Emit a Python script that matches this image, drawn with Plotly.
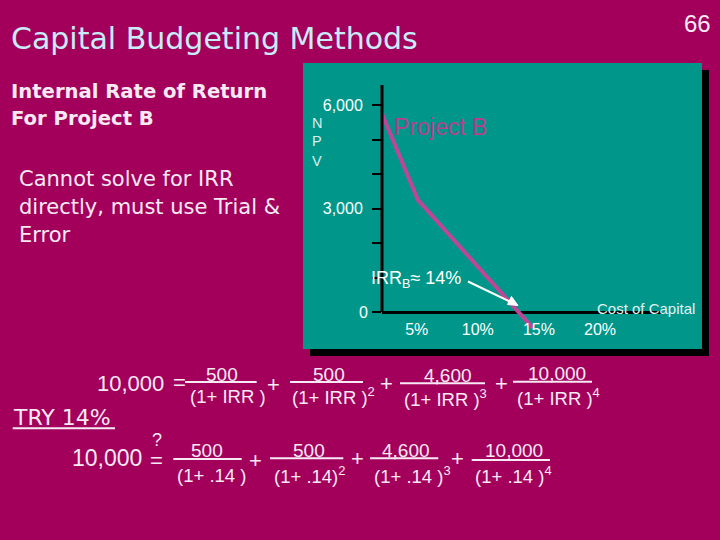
import plotly.graph_objects as go

# ---- chart data ----
rates = [2.1, 5.1, 14.5]            # cost of capital, %
npv_b = [5800, 3250, -460]          # NPV of Project B
y_tick_vals = [3000, 6000]
y_tick_text = ["3,000", "6,000"]
y_minor_step = 1000
x_tick_vals = [5, 10, 15, 20]
x_tick_text = ["5%", "10%", "15%", "20%"]

# ---- slide texts ----
title = "Capital Budgeting Methods"
page_no = "66"
heading_lines = ["Internal Rate of Return", "For Project B"]
body_lines = ["Cannot solve for IRR", "directly, must use Trial &", "Error"]
eq1_numerators = ["500", "500", "4,600", "10,000"]
eq1_denominators = ["(1+ IRR )", "(1+ IRR )<sup>2</sup>", "(1+ IRR )<sup>3</sup>", "(1+ IRR )<sup>4</sup>"]
eq2_numerators = ["500", "500", "4,600", "10,000"]
eq2_denominators = ["(1+ .14 )", "(1+ .14)<sup>2</sup>", "(1+ .14 )<sup>3</sup>", "(1+ .14 )<sup>4</sup>"]

W, H = 720, 540
BG = "#a3005c"
GREEN = "#00978a"
TXT = "#f7eaf5"
LINE = "#be4697"
SANS = "Liberation Sans, Arial, sans-serif"
WIDE = "DejaVu Sans, sans-serif"


def px(x):
    return x / W


def py(y):
    return 1 - y / H


fig = go.Figure()
fig.add_trace(go.Scatter(x=rates, y=npv_b, mode="lines",
                         line=dict(color=LINE, width=4), hoverinfo="skip",
                         showlegend=False))

# y: 0 at 312px, 34.5 px per 1000; plot area 80px..340px
y_top = (312 - 80) / 34.5 * 1000
y_bot = -(340 - 312) / 34.5 * 1000
# x: 12.22 px per %, 0% at 355.6px; plot area 382..662px
x_left = (382 - 355.6) / 12.22
x_right = (662 - 355.6) / 12.22

fig.update_layout(
    width=W, height=H, autosize=False,
    margin=dict(l=0, r=0, t=0, b=0),
    paper_bgcolor=BG, plot_bgcolor="rgba(0,0,0,0)",
    showlegend=False,
    xaxis=dict(domain=[px(382), px(662)], range=[x_left, x_right],
               anchor="free", position=py(318),
               tickvals=x_tick_vals, ticktext=x_tick_text, ticks="",
               showgrid=False, zeroline=False, showline=False,
               tickfont=dict(family=SANS, size=16, color="#ffffff")),
    yaxis=dict(domain=[py(340), py(80)], range=[y_bot, y_top],
               tickvals=y_tick_vals, ticktext=y_tick_text,
               ticks="outside", ticklen=9, tickwidth=2, tickcolor="#000000",
               minor=dict(tick0=y_minor_step, dtick=y_minor_step, ticks="outside",
                          ticklen=9, tickwidth=2, tickcolor="#000000",
                          showgrid=False),
               ticklabelstandoff=6,
               showgrid=False, showline=False,
               zeroline=True, zerolinecolor="#000000", zerolinewidth=3,
               tickfont=dict(family=SANS, size=16, color="#ffffff")),
)

shapes = []
# panel shadow and panel
shapes.append(dict(type="rect", xref="paper", yref="paper", layer="below",
                   x0=px(310), x1=px(709), y0=py(356), y1=py(70),
                   fillcolor="#000000", line=dict(width=0)))
shapes.append(dict(type="rect", xref="paper", yref="paper", layer="below",
                   x0=px(303), x1=px(702), y0=py(349), y1=py(63),
                   fillcolor=GREEN, line=dict(width=0)))
# vertical axis line
shapes.append(dict(type="line", xref="x domain", yref="y", x0=0, x1=0,
                   y0=0, y1=(312 - 85) / 34.5 * 1000,
                   line=dict(color="#000000", width=3)))
# arrow shaft from the IRR label to the curve
shapes.append(dict(type="line", xref="paper", yref="paper",
                   x0=px(468), y0=py(281.5), x1=px(512), y1=py(302.5),
                   line=dict(color="#ffffff", width=2)))
shapes.append(dict(type="path", xref="paper", yref="paper",
                   path="M {:.5f} {:.5f} L {:.5f} {:.5f} L {:.5f} {:.5f} Z".format(
                       px(518), py(305.5), px(507.5), py(304.5), px(511.5), py(296.5)),
                   fillcolor="#ffffff", line=dict(color="#ffffff", width=1)))


def bar(x0, x1, y):
    shapes.append(dict(type="line", xref="paper", yref="paper",
                       x0=px(x0), x1=px(x1), y0=py(y), y1=py(y),
                       line=dict(color=TXT, width=2)))


def ann(text, x, y, size, color=TXT, family=SANS, xanchor="left"):
    fig.add_annotation(text=text, x=px(x), y=py(y), xref="paper", yref="paper",
                       showarrow=False, xanchor=xanchor, yanchor="middle",
                       font=dict(family=family, size=size, color=color))


# title and page number
ann(title, 9, 39, 30, "#c8ecfa", WIDE)
ann(page_no, 682, 24, 24, TXT)

# left texts
for t, y in zip(heading_lines, [91, 119]):
    ann("<b>" + t + "</b>", 9, y, 19.6, TXT, WIDE)
for t, y in zip(body_lines, [179, 207, 235]):
    ann(t, 17, y, 21, TXT, WIDE)

# chart labels
ann("N", 316.7, 123, 14.5, "#d6eeee", xanchor="center")
ann("P", 316.7, 141, 14.5, "#d6eeee", xanchor="center")
ann("V", 316.7, 160.5, 14.5, "#d6eeee", xanchor="center")
ann("Project B", 392, 127, 23, "#b43f8f")
ann("0", 363.5, 312.5, 16, "#ffffff", xanchor="center")
ann("Cost of Capital", 595, 308, 15, "#e2f2f2")
ann("IRR<sub>B</sub>≈ 14%", 369, 279.5, 18, "#ffffff")

# equation 1
ann("10,000", 95, 383, 22)
ann("=", 171, 382, 22)
for t, (cx, cy) in zip(eq1_numerators, [(221.7, 374.7), (329, 374.5), (447.5, 375), (556.7, 373)]):
    ann(t, cx, cy, 19, xanchor="center")
for x0, x1, y in [(185, 256.7, 382), (290, 363, 382), (400, 485, 383.3), (513, 592, 381.7)]:
    bar(x0, x1, y)
for t, (lx, cy) in zip(eq1_denominators, [(188.3, 396), (290, 396), (401.7, 398), (515, 397)]):
    ann(t, lx, cy, 18.5)
for cx, cy in [(273.3, 384), (386.5, 383), (501, 383)]:
    ann("+", cx, cy, 22, xanchor="center")

# TRY 14%
ann("TRY 14%", 11, 417.5, 22, TXT, WIDE)
bar(12.7, 115, 428.3)

# equation 2
ann("?", 156.7, 440, 18, xanchor="center")
ann("10,000", 70, 458.3, 23)
ann("=", 148, 460, 22)
for t, (cx, cy) in zip(eq2_numerators, [(207.5, 450.8), (309, 450.8), (405.8, 450), (514.2, 450)]):
    ann(t, cx, cy, 19, xanchor="center")
for x0, x1, y in [(173.3, 241.7, 459), (270, 343.3, 458.3), (370, 438.3, 458.3), (471.7, 550, 460)]:
    bar(x0, x1, y)
for t, (lx, cy) in zip(eq2_denominators, [(175, 475.8), (271.7, 475), (371.7, 475), (473.3, 475)]):
    ann(t, lx, cy, 18.5)
for cx, cy in [(255.8, 460), (357.5, 458.3), (457.5, 458.3)]:
    ann("+", cx, cy, 22, xanchor="center")

fig.update_layout(shapes=shapes)
fig.write_html("out.html", config={"displayModeBar": False},
               post_script="document.body.style.margin='0px';")
